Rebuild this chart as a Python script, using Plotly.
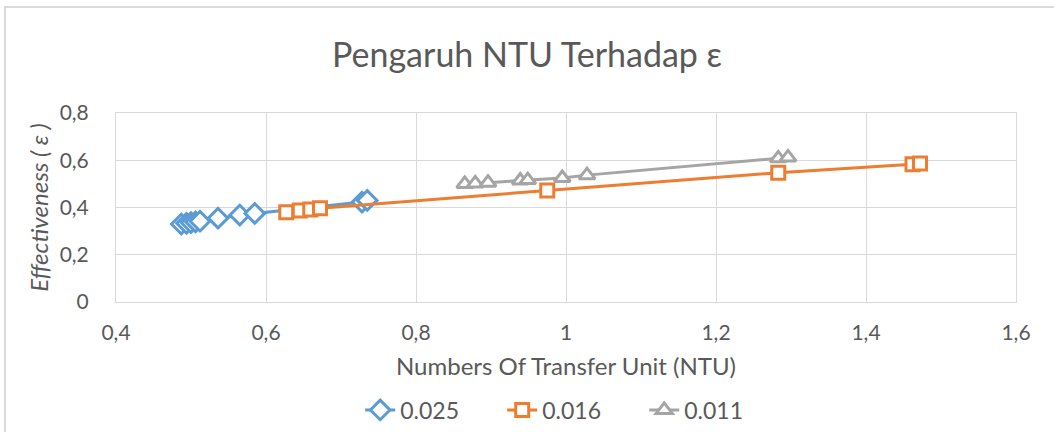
import plotly.graph_objects as go

# Data
ntu_025 = [0.487, 0.494, 0.500, 0.506, 0.512, 0.536, 0.565, 0.585, 0.728, 0.735]
eff_025 = [0.330, 0.333, 0.336, 0.339, 0.342, 0.355, 0.368, 0.375, 0.423, 0.430]

ntu_016 = [0.627, 0.645, 0.659, 0.672, 0.975, 1.283, 1.462, 1.472]
eff_016 = [0.380, 0.387, 0.392, 0.397, 0.472, 0.547, 0.583, 0.586]

ntu_011 = [0.865, 0.879, 0.896, 0.939, 0.949, 0.995, 1.028, 1.283, 1.296]
eff_011 = [0.500, 0.502, 0.505, 0.514, 0.516, 0.525, 0.537, 0.608, 0.612]

series_names = ["0.025", "0.016", "0.011"]
x_ticks = [0.4, 0.6, 0.8, 1.0, 1.2, 1.4, 1.6]
y_ticks = [0, 0.2, 0.4, 0.6, 0.8]

colors = ["#5B9BD5", "#ED7D31", "#A5A5A5"]
symbols = ["diamond", "square", "triangle-up"]
sizes = [15, 13, 14]

FONT = "Lato"
GREY = "#595959"

fig = go.Figure()
for name, xs, ys, c, s, sz in zip(series_names, [ntu_025, ntu_016, ntu_011],
                                  [eff_025, eff_016, eff_011], colors, symbols, sizes):
    fig.add_trace(go.Scatter(
        x=xs, y=ys, name=name, mode="lines+markers",
        line=dict(color=c, width=3),
        marker=dict(symbol=s, size=sz, color="white", line=dict(color=c, width=3)),
    ))

fig.update_layout(
    width=1054, height=432,
    margin=dict(l=116, r=38, t=113, b=130, autoexpand=False),
    paper_bgcolor="white", plot_bgcolor="white",
    separators=",.",
    font=dict(family=FONT, color=GREY, size=21),
    title=dict(text="Pengaruh NTU Terhadap ε", x=0.5, xref="container", xanchor="center",
               y=1 - 55 / 432, yref="container", yanchor="middle",
               font=dict(family=FONT, size=34, color=GREY)),
    legend=dict(orientation="h", x=0.508, xanchor="center",
                y=1 - 410 / 432, yref="container", yanchor="middle",
                entrywidth=97, font=dict(size=23, color=GREY)),
    showlegend=True,
)

fig.update_xaxes(range=[0.4, 1.6], tickvals=x_ticks, showgrid=True, gridcolor="#D9D9D9",
                 gridwidth=1, zeroline=False, showline=True, linecolor="#D9D9D9", mirror=True,
                 automargin=False,
                 ticklabelstandoff=12, tickfont=dict(size=21, color=GREY),
                 title=dict(text="Numbers Of Transfer Unit (NTU)", standoff=14,
                            font=dict(size=24, color=GREY)))
fig.update_yaxes(range=[0, 0.8], tickvals=y_ticks, showgrid=True, gridcolor="#D9D9D9",
                 gridwidth=1, zeroline=False, showline=True, linecolor="#D9D9D9", mirror=True,
                 automargin=False,
                 ticklabelstandoff=22, tickfont=dict(size=21, color=GREY),
                 title=dict(text="<i>Effectiveness ( ε )</i>", standoff=4,
                            font=dict(size=24, color=GREY)))

# chart-area border (outer frame of the embedded chart)
fig.add_shape(type="rect", xref="paper", yref="paper",
              x0=(5 - 116) / 900, x1=(1060 - 116) / 900,
              y0=(302 - 440) / 189, y1=(302 - 7) / 189,
              line=dict(color="#D0D0D0", width=1.5), fillcolor="rgba(0,0,0,0)", layer="below")

fig.write_html("out.html", config={"displayModeBar": False},
               post_script="document.body.style.margin='0px';")
